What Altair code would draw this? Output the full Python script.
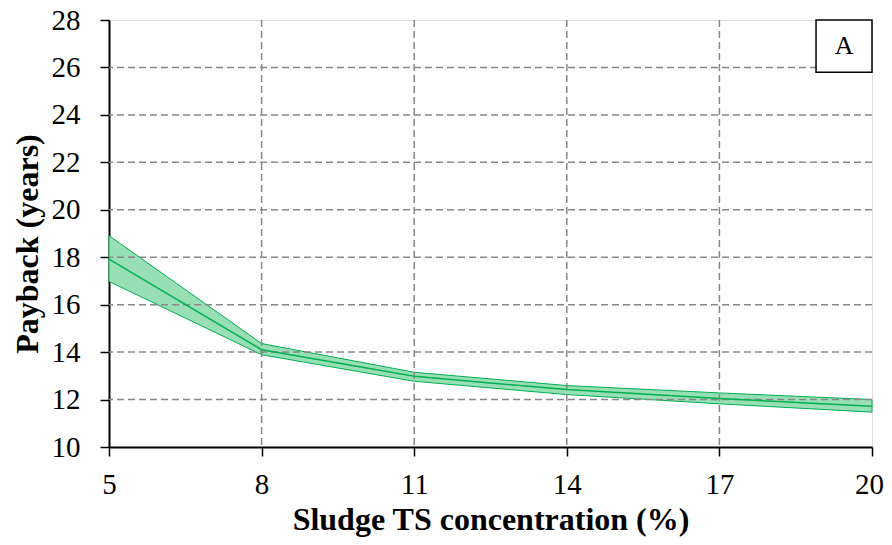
import altair as alt
import pandas as pd

# Data
ts = [5, 8, 11, 14, 17, 20]
payback_mid = [17.92, 14.10, 12.98, 12.42, 12.04, 11.72]
payback_low = [16.98, 13.89, 12.77, 12.21, 11.82, 11.47]
payback_high = [18.91, 14.36, 13.15, 12.59, 12.28, 12.00]

x_ticks = [5, 8, 11, 14, 17, 20]
y_ticks = [10, 12, 14, 16, 18, 20, 22, 24, 26, 28]

panel_label = ["A"]

df = pd.DataFrame({"ts": ts, "mid": payback_mid, "low": payback_low, "high": payback_high})
grid_y = pd.DataFrame({"v": y_ticks[1:-1]})
grid_x = pd.DataFrame({"v": x_ticks[1:-1]})
box = pd.DataFrame({"x1": [18.9], "x2": [20.0], "y1": [25.8], "y2": [28.0],
                    "xm": [19.45], "ym": [26.9], "t": panel_label})

FONT = "Liberation Serif"
GREEN = "#00b050"

xscale = alt.Scale(domain=[5, 20], nice=False, zero=False)
yscale = alt.Scale(domain=[10, 28], nice=False, zero=False)

xaxis = alt.Axis(values=x_ticks, title="Sludge TS concentration (%)", grid=False,
                 tickSize=9, labelPadding=14, labelFontSize=29, labelFont=FONT,
                 labelOffset={"condition": {"test": "datum.value == 20", "value": -3}, "value": 0},
                 titleFont=FONT, titleFontSize=32, titleFontWeight="bold",
                 titleY=82, titleBaseline="alphabetic", labelFlush=False,
                 domainColor="black", domainWidth=2, tickColor="black", tickWidth=1.5,
                 labelColor="black", titleColor="black")
yaxis = alt.Axis(values=y_ticks, title="Payback (years)", grid=False,
                 tickSize=9, labelPadding=20, labelFontSize=29, labelFont=FONT,
                 titleFont=FONT, titleFontSize=32, titleFontWeight="bold",
                 titleX=-72, titleY=223.5, titleAlign="center", titleBaseline="alphabetic",
                 domainColor="black", domainWidth=2, tickColor="black", tickWidth=1.5,
                 labelColor="black", titleColor="black")

band = alt.Chart(df).mark_area(fill="#98dfb6", fillOpacity=1, stroke=GREEN, strokeWidth=1).encode(
    x=alt.X("ts:Q", scale=xscale, axis=xaxis),
    y=alt.Y("low:Q", scale=yscale, axis=yaxis),
    y2="high:Q",
)

gy = alt.Chart(grid_y).mark_rule(color="#888888", strokeDash=[7, 4], strokeWidth=1.5).encode(
    y=alt.Y("v:Q", scale=yscale)
)
gx = alt.Chart(grid_x).mark_rule(color="#888888", strokeDash=[7, 4], strokeWidth=1.5).encode(
    x=alt.X("v:Q", scale=xscale)
)

line = alt.Chart(df).mark_line(color=GREEN, strokeWidth=1.5).encode(
    x=alt.X("ts:Q", scale=xscale),
    y=alt.Y("mid:Q", scale=yscale),
)

rect = alt.Chart(box).mark_rect(fill="white", stroke="black", strokeWidth=1.5).encode(
    x=alt.X("x1:Q", scale=xscale), x2="x2:Q",
    y=alt.Y("y1:Q", scale=yscale), y2="y2:Q",
)
txt = alt.Chart(box).mark_text(font=FONT, fontSize=26, color="black", baseline="middle", align="center").encode(
    x=alt.X("xm:Q", scale=xscale),
    y=alt.Y("ym:Q", scale=yscale),
    text="t:N",
)

chart = alt.layer(band, gy, gx, line, rect, txt).properties(
    width=763, height=427,
    autosize=alt.AutoSizeParams(type="none"),
    padding={"left": 101, "top": 12, "right": 12, "bottom": 90},
).configure_view(stroke="black", strokeWidth=1.5).configure(background="white", font=FONT)

chart.save("out.html", embed_options={"renderer": "svg", "actions": False})
